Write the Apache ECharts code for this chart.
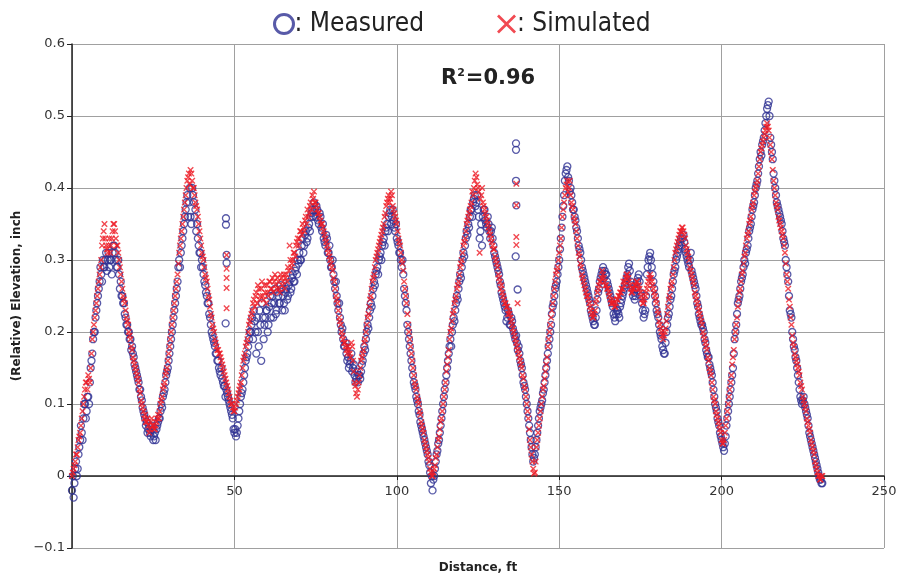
<!DOCTYPE html>
<html>
<head>
<meta charset="utf-8">
<script src="https://cdn.jsdelivr.net/npm/echarts@6/dist/echarts.min.js"></script>
<style>
  html, body { margin: 0; padding: 0; background: #fff; }
  #chart { width: 903px; height: 581px; }
</style>
</head>
<body>
<div id="chart"></div>
<script>
  // readings every 0.5 ft from 0 ft (A) and the in-between readings from 0.25 ft (B)
  var step = 0.5;

  var measuredA = [
    -0.02, -0.03, 0.01, 0.0, 0.03, 0.05, 0.06, 0.08, 0.1, 0.09,
    0.11, 0.13, 0.16, 0.19, 0.2, 0.23, 0.25, 0.27, 0.28, 0.3,
    0.29, 0.31, 0.3, 0.29, 0.3, 0.31, 0.32, 0.3, 0.29, 0.28,
    0.27, 0.25, 0.24, 0.22, 0.21, 0.2, 0.19, 0.18, 0.165, 0.15,
    0.14, 0.13, 0.12, 0.105, 0.09, 0.08, 0.075, 0.065, 0.06, 0.07,
    0.05, 0.06, 0.065, 0.075, 0.08, 0.1, 0.11, 0.12, 0.14, 0.15,
    0.17, 0.19, 0.21, 0.23, 0.25, 0.27, 0.3, 0.31, 0.33, 0.35,
    0.37, 0.39, 0.38, 0.36, 0.4, 0.38, 0.37, 0.35, 0.32, 0.31,
    0.3, 0.28, 0.265, 0.25, 0.24, 0.22, 0.2, 0.19, 0.18, 0.17,
    0.16, 0.145, 0.15, 0.13, 0.125, 0.12, 0.11, 0.1, 0.09, 0.08,
    0.06, 0.055, 0.07, 0.09, 0.11, 0.12, 0.14, 0.16, 0.17, 0.19,
    0.2, 0.22, 0.23, 0.2, 0.22, 0.18, 0.21, 0.24, 0.19, 0.22,
    0.23, 0.21, 0.25, 0.24, 0.22, 0.26, 0.23, 0.25, 0.24, 0.26,
    0.25, 0.23, 0.26, 0.25, 0.27, 0.26, 0.28, 0.27, 0.29, 0.3,
    0.31, 0.3, 0.33, 0.32, 0.34, 0.33, 0.35, 0.36, 0.37, 0.38,
    0.36, 0.37, 0.35, 0.36, 0.34, 0.33, 0.32, 0.33, 0.31, 0.3,
    0.29, 0.28, 0.26, 0.25, 0.23, 0.22, 0.2, 0.19, 0.18, 0.17,
    0.165, 0.155, 0.17, 0.15, 0.14, 0.135, 0.13, 0.14, 0.145, 0.16,
    0.18, 0.19, 0.21, 0.22, 0.24, 0.25, 0.27, 0.28, 0.29, 0.3,
    0.31, 0.32, 0.33, 0.34, 0.35, 0.36, 0.37, 0.36, 0.355, 0.34,
    0.33, 0.32, 0.31, 0.29, 0.28, 0.25, 0.23, 0.2, 0.18, 0.16,
    0.14, 0.125, 0.11, 0.1, 0.085, 0.07, 0.06, 0.05, 0.04, 0.03,
    0.015, -0.01, -0.02, 0.0, 0.02, 0.035, 0.05, 0.07, 0.09, 0.11,
    0.13, 0.15, 0.17, 0.19, 0.2, 0.22, 0.23, 0.25, 0.26, 0.28,
    0.29, 0.31, 0.32, 0.34, 0.35, 0.36, 0.37, 0.38, 0.39, 0.38,
    0.37, 0.33, 0.35, 0.36, 0.37, 0.35, 0.36, 0.34, 0.34, 0.33,
    0.31, 0.3, 0.29, 0.28, 0.265, 0.25, 0.24, 0.23, 0.22, 0.225,
    0.21, 0.215, 0.2, 0.19, 0.185, 0.18, 0.16, 0.15, 0.13, 0.12,
    0.1, 0.08, 0.06, 0.04, 0.02, 0.03, 0.05, 0.07, 0.09, 0.1,
    0.115, 0.13, 0.15, 0.17, 0.19, 0.21, 0.235, 0.25, 0.265, 0.28,
    0.3, 0.33, 0.36, 0.39, 0.42, 0.43, 0.41, 0.4, 0.38, 0.37,
    0.355, 0.34, 0.32, 0.31, 0.29, 0.28, 0.27, 0.26, 0.25, 0.24,
    0.225, 0.215, 0.21, 0.23, 0.255, 0.27, 0.28, 0.29, 0.285, 0.28,
    0.265, 0.255, 0.245, 0.235, 0.22, 0.225, 0.23, 0.22, 0.24, 0.25,
    0.26, 0.27, 0.28, 0.295, 0.27, 0.26, 0.255, 0.25, 0.27, 0.28,
    0.255, 0.24, 0.22, 0.23, 0.28, 0.3, 0.31, 0.29, 0.27, 0.25,
    0.23, 0.22, 0.2, 0.19, 0.175, 0.17, 0.2, 0.22, 0.235, 0.25,
    0.27, 0.285, 0.3, 0.31, 0.32, 0.33, 0.33, 0.325, 0.31, 0.3,
    0.29, 0.31, 0.28, 0.27, 0.26, 0.24, 0.225, 0.215, 0.21, 0.2,
    0.185, 0.17, 0.165, 0.15, 0.14, 0.12, 0.1, 0.09, 0.075, 0.06,
    0.05, 0.04, 0.045, 0.07, 0.09, 0.11, 0.13, 0.15, 0.19, 0.21,
    0.24, 0.25, 0.27, 0.28, 0.3, 0.31, 0.32, 0.34, 0.35, 0.37,
    0.38, 0.4, 0.41, 0.43, 0.45, 0.46, 0.47, 0.49, 0.51, 0.52,
    0.47, 0.45, 0.42, 0.4, 0.38, 0.37, 0.36, 0.35, 0.33, 0.32,
    0.29, 0.27, 0.23, 0.22, 0.19, 0.175, 0.16, 0.14, 0.12, 0.105,
    0.105, 0.1, 0.09, 0.08, 0.06, 0.05, 0.04, 0.03, 0.02, 0.01,
    0.0, -0.005, -0.01
  ];

  var measuredB = [
    0.0, -0.01, 0.02, 0.01, 0.04, 0.07, 0.05, 0.1, 0.08, 0.11,
    0.1, 0.15, 0.17, 0.2, 0.22, 0.24, 0.26, 0.29, 0.27, 0.29,
    0.3, 0.285, 0.31, 0.3, 0.28, 0.32, 0.31, 0.29, 0.3, 0.26,
    0.25, 0.24, 0.225, 0.21, 0.2, 0.19, 0.175, 0.17, 0.155, 0.145,
    0.135, 0.12, 0.11, 0.095, 0.085, 0.07, 0.06, 0.07, 0.055, 0.065,
    0.055, 0.05, 0.07, 0.08, 0.09, 0.095, 0.115, 0.13, 0.145, 0.16,
    0.18, 0.2, 0.22, 0.24, 0.26, 0.29, 0.29, 0.32, 0.34, 0.36,
    0.38, 0.36, 0.4, 0.35, 0.39, 0.36, 0.34, 0.33, 0.31, 0.29,
    0.29, 0.27, 0.255, 0.24, 0.225, 0.21, 0.195, 0.185, 0.17, 0.16,
    0.15, 0.14, 0.135, 0.125, 0.11, 0.115, 0.105, 0.095, 0.085, 0.065,
    0.065, 0.06, 0.08, 0.1, 0.115, 0.13, 0.15, 0.165, 0.18, 0.2,
    0.21, 0.19, 0.215, 0.17, 0.2, 0.23, 0.16, 0.22, 0.21, 0.23,
    0.2, 0.235, 0.22, 0.25, 0.24, 0.225, 0.255, 0.24, 0.265, 0.23,
    0.24, 0.255, 0.245, 0.265, 0.255, 0.275, 0.27, 0.285, 0.28, 0.295,
    0.3, 0.32, 0.31, 0.335, 0.325, 0.345, 0.34, 0.365, 0.36, 0.37,
    0.375, 0.355, 0.365, 0.345, 0.35, 0.325, 0.335, 0.31, 0.32, 0.29,
    0.3, 0.27, 0.27, 0.24, 0.24, 0.21, 0.205, 0.18, 0.185, 0.16,
    0.15, 0.16, 0.145, 0.155, 0.13, 0.145, 0.14, 0.135, 0.155, 0.17,
    0.175, 0.2, 0.205, 0.23, 0.235, 0.26, 0.265, 0.285, 0.28, 0.305,
    0.3, 0.325, 0.32, 0.345, 0.34, 0.365, 0.35, 0.37, 0.345, 0.35,
    0.325, 0.31, 0.3, 0.3, 0.26, 0.24, 0.21, 0.19, 0.17, 0.15,
    0.13, 0.12, 0.105, 0.09, 0.075, 0.065, 0.055, 0.045, 0.035, 0.02,
    0.005, 0.0, -0.005, 0.01, 0.03, 0.045, 0.06, 0.08, 0.1, 0.12,
    0.14, 0.16, 0.18, 0.18, 0.21, 0.215, 0.24, 0.245, 0.27, 0.275,
    0.3, 0.305, 0.33, 0.335, 0.345, 0.37, 0.36, 0.385, 0.375, 0.39,
    0.36, 0.34, 0.32, 0.37, 0.355, 0.345, 0.35, 0.33, 0.345, 0.32,
    0.305, 0.295, 0.285, 0.27, 0.255, 0.245, 0.235, 0.215, 0.23, 0.21,
    0.22, 0.205, 0.195, 0.195, 0.175, 0.17, 0.155, 0.14, 0.125, 0.11,
    0.09, 0.07, 0.05, 0.03, 0.025, 0.04, 0.06, 0.08, 0.095, 0.105,
    0.12, 0.14, 0.16, 0.18, 0.2, 0.225, 0.24, 0.26, 0.27, 0.29,
    0.315, 0.345, 0.375, 0.41, 0.425, 0.415, 0.395, 0.39, 0.37, 0.36,
    0.345, 0.33, 0.315, 0.3, 0.285, 0.275, 0.265, 0.255, 0.245, 0.23,
    0.22, 0.21, 0.22, 0.245, 0.26, 0.275, 0.285, 0.275, 0.28, 0.27,
    0.26, 0.25, 0.24, 0.225, 0.215, 0.23, 0.225, 0.235, 0.245, 0.255,
    0.265, 0.275, 0.29, 0.285, 0.265, 0.25, 0.245, 0.26, 0.275, 0.27,
    0.25, 0.23, 0.225, 0.25, 0.29, 0.305, 0.3, 0.28, 0.26, 0.24,
    0.225, 0.21, 0.195, 0.18, 0.17, 0.185, 0.21, 0.225, 0.245, 0.26,
    0.28, 0.29, 0.305, 0.315, 0.325, 0.32, 0.335, 0.315, 0.305, 0.295,
    0.3, 0.285, 0.275, 0.265, 0.25, 0.235, 0.22, 0.21, 0.205, 0.19,
    0.175, 0.165, 0.155, 0.145, 0.13, 0.11, 0.095, 0.08, 0.07, 0.055,
    0.045, 0.035, 0.055, 0.08, 0.1, 0.12, 0.14, 0.17, 0.2, 0.225,
    0.245, 0.26, 0.275, 0.29, 0.295, 0.315, 0.33, 0.345, 0.36, 0.375,
    0.39, 0.405, 0.42, 0.44, 0.445, 0.465, 0.48, 0.5, 0.515, 0.5,
    0.46, 0.44, 0.41, 0.39, 0.375, 0.365, 0.355, 0.34, 0.325, 0.3,
    0.28, 0.25, 0.225, 0.2, 0.18, 0.165, 0.15, 0.13, 0.11, 0.1,
    0.11, 0.095, 0.085, 0.07, 0.055, 0.045, 0.035, 0.025, 0.015, 0.005,
    -0.005, -0.01
  ];

  var simulatedA = [
    0.0, 0.01, 0.02, 0.03, 0.05, 0.06, 0.08, 0.1, 0.12, 0.13,
    0.14, 0.13, 0.17, 0.2, 0.22, 0.24, 0.26, 0.28, 0.3, 0.33,
    0.35, 0.32, 0.31, 0.33, 0.32, 0.34, 0.35, 0.33, 0.32, 0.3,
    0.28, 0.26, 0.245, 0.23, 0.215, 0.2, 0.19, 0.175, 0.16, 0.15,
    0.14, 0.13, 0.115, 0.1, 0.09, 0.085, 0.075, 0.07, 0.065, 0.08,
    0.07, 0.065, 0.075, 0.085, 0.09, 0.105, 0.12, 0.13, 0.145, 0.16,
    0.18, 0.2, 0.22, 0.24, 0.26, 0.28, 0.31, 0.33, 0.35, 0.37,
    0.39, 0.41, 0.42, 0.425, 0.41, 0.4, 0.38, 0.37, 0.35, 0.33,
    0.31, 0.3, 0.28, 0.27, 0.25, 0.235, 0.22, 0.205, 0.19, 0.18,
    0.175, 0.17, 0.16, 0.15, 0.14, 0.13, 0.12, 0.11, 0.1, 0.095,
    0.09, 0.1, 0.11, 0.12, 0.13, 0.15, 0.165, 0.18, 0.19, 0.21,
    0.22, 0.23, 0.245, 0.25, 0.24, 0.26, 0.25, 0.27, 0.245, 0.255,
    0.265, 0.25, 0.27, 0.26, 0.255, 0.28, 0.26, 0.27, 0.255, 0.275,
    0.27, 0.26, 0.28, 0.29, 0.32, 0.29, 0.3, 0.31, 0.32, 0.33,
    0.33, 0.34, 0.35, 0.34, 0.36, 0.37, 0.365, 0.38, 0.39, 0.395,
    0.38, 0.37, 0.365, 0.355, 0.35, 0.34, 0.33, 0.32, 0.31, 0.3,
    0.29, 0.275, 0.26, 0.245, 0.23, 0.215, 0.2, 0.19, 0.185, 0.175,
    0.18, 0.17, 0.185, 0.16, 0.13, 0.115, 0.12, 0.14, 0.16, 0.17,
    0.185, 0.2, 0.22, 0.235, 0.25, 0.27, 0.28, 0.3, 0.31, 0.32,
    0.33, 0.34, 0.35, 0.365, 0.38, 0.39, 0.385, 0.39, 0.37, 0.36,
    0.35, 0.33, 0.32, 0.3, 0.285, 0.26, 0.24, 0.21, 0.19, 0.17,
    0.15, 0.13, 0.12, 0.105, 0.09, 0.075, 0.065, 0.05, 0.04, 0.03,
    0.02, 0.005, 0.0, 0.01, 0.025, 0.04, 0.055, 0.075, 0.09, 0.11,
    0.13, 0.155, 0.175, 0.2, 0.215, 0.23, 0.245, 0.26, 0.27, 0.29,
    0.3, 0.32, 0.33, 0.35, 0.36, 0.37, 0.38, 0.39, 0.41, 0.415,
    0.4, 0.31, 0.39, 0.38, 0.37, 0.36, 0.35, 0.34, 0.33, 0.32,
    0.315, 0.3, 0.29, 0.275, 0.26, 0.255, 0.245, 0.24, 0.235, 0.23,
    0.22, 0.21, 0.2, 0.19, 0.18, 0.17, 0.16, 0.15, 0.135, 0.12,
    0.1, 0.08, 0.05, 0.03, 0.01, 0.005, 0.04, 0.06, 0.08, 0.1,
    0.12, 0.135, 0.155, 0.18, 0.2, 0.22, 0.24, 0.26, 0.28, 0.29,
    0.31, 0.33, 0.36, 0.38, 0.4, 0.41, 0.4, 0.39, 0.375, 0.36,
    0.35, 0.33, 0.31, 0.295, 0.28, 0.27, 0.26, 0.25, 0.245, 0.235,
    0.225, 0.22, 0.23, 0.245, 0.26, 0.27, 0.275, 0.28, 0.27, 0.265,
    0.26, 0.25, 0.24, 0.245, 0.235, 0.24, 0.245, 0.25, 0.255, 0.26,
    0.265, 0.275, 0.28, 0.27, 0.26, 0.255, 0.26, 0.265, 0.27, 0.265,
    0.255, 0.245, 0.24, 0.25, 0.26, 0.27, 0.28, 0.27, 0.26, 0.25,
    0.24, 0.225, 0.21, 0.2, 0.19, 0.2, 0.215, 0.235, 0.25, 0.265,
    0.28, 0.3, 0.315, 0.325, 0.335, 0.34, 0.345, 0.335, 0.32, 0.31,
    0.3, 0.285, 0.275, 0.265, 0.25, 0.24, 0.23, 0.22, 0.21, 0.195,
    0.185, 0.175, 0.16, 0.145, 0.13, 0.11, 0.1, 0.085, 0.075, 0.065,
    0.05, 0.045, 0.06, 0.08, 0.1, 0.12, 0.14, 0.165, 0.19, 0.21,
    0.235, 0.255, 0.27, 0.285, 0.305, 0.32, 0.335, 0.35, 0.36, 0.375,
    0.39, 0.4, 0.41, 0.43, 0.45, 0.46, 0.47, 0.48, 0.49, 0.48,
    0.46, 0.44, 0.41, 0.39, 0.375, 0.36, 0.35, 0.34, 0.33, 0.31,
    0.28, 0.26, 0.235, 0.21, 0.185, 0.17, 0.16, 0.15, 0.14, 0.125,
    0.11, 0.1, 0.09, 0.075, 0.065, 0.05, 0.04, 0.03, 0.015, 0.005,
    0.0, -0.005, 0.0
  ];

  var simulatedB = [
    0.005, 0.015, 0.03, 0.04, 0.055, 0.07, 0.09, 0.11, 0.13, 0.12,
    0.135, 0.15, 0.19, 0.21, 0.23, 0.25, 0.27, 0.29, 0.32, 0.34,
    0.33, 0.315, 0.32, 0.31, 0.33, 0.35, 0.34, 0.32, 0.31, 0.29,
    0.27, 0.25, 0.24, 0.22, 0.21, 0.195, 0.18, 0.165, 0.155, 0.145,
    0.135, 0.12, 0.105, 0.095, 0.08, 0.075, 0.08, 0.06, 0.075, 0.07,
    0.065, 0.07, 0.08, 0.08, 0.1, 0.11, 0.125, 0.14, 0.15, 0.17,
    0.19, 0.21, 0.23, 0.25, 0.27, 0.295, 0.32, 0.34, 0.36, 0.38,
    0.4, 0.415, 0.405, 0.42, 0.4, 0.39, 0.375, 0.36, 0.34, 0.32,
    0.305, 0.29, 0.275, 0.26, 0.245, 0.225, 0.21, 0.2, 0.185, 0.175,
    0.17, 0.165, 0.155, 0.145, 0.135, 0.125, 0.115, 0.105, 0.1, 0.09,
    0.095, 0.105, 0.115, 0.125, 0.14, 0.16, 0.17, 0.185, 0.2, 0.215,
    0.225, 0.24, 0.235, 0.255, 0.265, 0.245, 0.26, 0.25, 0.265, 0.24,
    0.255, 0.27, 0.26, 0.275, 0.27, 0.265, 0.275, 0.26, 0.28, 0.265,
    0.28, 0.275, 0.27, 0.285, 0.3, 0.295, 0.31, 0.305, 0.325, 0.32,
    0.34, 0.335, 0.345, 0.355, 0.35, 0.36, 0.375, 0.37, 0.385, 0.38,
    0.375, 0.365, 0.36, 0.35, 0.345, 0.335, 0.325, 0.315, 0.305, 0.295,
    0.285, 0.27, 0.25, 0.24, 0.22, 0.21, 0.195, 0.185, 0.18, 0.17,
    0.175, 0.165, 0.18, 0.145, 0.125, 0.11, 0.13, 0.15, 0.165, 0.175,
    0.19, 0.21, 0.225, 0.245, 0.26, 0.275, 0.29, 0.305, 0.315, 0.325,
    0.335, 0.345, 0.36, 0.375, 0.385, 0.38, 0.395, 0.375, 0.365, 0.355,
    0.34, 0.325, 0.31, 0.295, 0.27, 0.25, 0.225, 0.2, 0.18, 0.16,
    0.14, 0.125, 0.11, 0.1, 0.085, 0.07, 0.06, 0.045, 0.035, 0.025,
    0.01, 0.0, 0.005, 0.015, 0.03, 0.05, 0.065, 0.08, 0.1, 0.12,
    0.145, 0.165, 0.19, 0.205, 0.225, 0.24, 0.25, 0.265, 0.28, 0.295,
    0.31, 0.325, 0.34, 0.355, 0.365, 0.375, 0.395, 0.4, 0.42, 0.405,
    0.395, 0.385, 0.4, 0.375, 0.365, 0.355, 0.345, 0.335, 0.325, 0.315,
    0.305, 0.295, 0.28, 0.27, 0.265, 0.25, 0.24, 0.235, 0.225, 0.225,
    0.215, 0.205, 0.195, 0.185, 0.175, 0.165, 0.155, 0.14, 0.125, 0.11,
    0.09, 0.065, 0.04, 0.02, 0.003, 0.02, 0.05, 0.07, 0.09, 0.11,
    0.125, 0.145, 0.165, 0.19, 0.21, 0.23, 0.25, 0.27, 0.285, 0.3,
    0.32, 0.345, 0.37, 0.39, 0.405, 0.395, 0.41, 0.38, 0.37, 0.355,
    0.34, 0.32, 0.305, 0.29, 0.275, 0.265, 0.255, 0.25, 0.24, 0.23,
    0.22, 0.225, 0.24, 0.255, 0.265, 0.27, 0.285, 0.275, 0.265, 0.26,
    0.255, 0.245, 0.24, 0.24, 0.235, 0.245, 0.25, 0.255, 0.26, 0.27,
    0.27, 0.28, 0.275, 0.265, 0.255, 0.26, 0.265, 0.27, 0.26, 0.26,
    0.25, 0.24, 0.245, 0.255, 0.265, 0.275, 0.275, 0.265, 0.255, 0.245,
    0.23, 0.215, 0.205, 0.195, 0.195, 0.205, 0.225, 0.245, 0.26, 0.27,
    0.29, 0.31, 0.32, 0.33, 0.34, 0.345, 0.34, 0.33, 0.315, 0.305,
    0.29, 0.28, 0.27, 0.255, 0.245, 0.235, 0.225, 0.215, 0.2, 0.19,
    0.18, 0.165, 0.15, 0.14, 0.12, 0.105, 0.09, 0.08, 0.07, 0.06,
    0.045, 0.05, 0.07, 0.09, 0.11, 0.13, 0.155, 0.175, 0.2, 0.22,
    0.245, 0.26, 0.28, 0.295, 0.31, 0.33, 0.34, 0.355, 0.37, 0.38,
    0.395, 0.405, 0.42, 0.44, 0.455, 0.465, 0.475, 0.485, 0.485, 0.47,
    0.45, 0.425, 0.4, 0.38, 0.37, 0.355, 0.345, 0.335, 0.32, 0.295,
    0.27, 0.245, 0.22, 0.195, 0.18, 0.165, 0.155, 0.145, 0.13, 0.12,
    0.105, 0.095, 0.08, 0.07, 0.06, 0.045, 0.035, 0.02, 0.01, 0.0,
    -0.005, 0.0
  ];

  // stray readings: [distance, elevation]
  var measuredStray = [
    [47.4, 0.358], [47.4, 0.349], [47.6, 0.307], [47.6, 0.296], [47.3, 0.212],
    [136.7, 0.462], [136.7, 0.453], [136.7, 0.41], [136.8, 0.376], [136.6, 0.305], [137.2, 0.259]
  ];
  var simulatedStray = [
    [47.6, 0.307], [47.6, 0.288], [47.6, 0.275], [47.6, 0.261], [47.6, 0.233],
    [136.8, 0.406], [136.8, 0.376], [136.8, 0.332], [136.8, 0.321], [137.2, 0.24]
  ];

  var blue = '#2e3192';
  var red = '#ee1c25';
  var cross = 'path://M0,1.5L1.5,0L5,3.5L8.5,0L10,1.5L6.5,5L10,8.5L8.5,10L5,6.5L1.5,10L0,8.5L3.5,5Z';
  var thinCross = 'path://M0,1L1,0L5,4L9,0L10,1L6,5L10,9L9,10L5,6L1,10L0,9L4,5Z';

  function pairs(arr, start) {
    return arr.map(function (v, i) { return [start + i * step, v]; });
  }

  var chart = echarts.init(document.getElementById('chart'));
  chart.setOption({
    animation: false,
    backgroundColor: '#fff',
    title: {
      text: '{a|R}{s|2}{a|=0.96}',
      left: 436,
      top: 63,
      textStyle: {
        rich: {
          a: { fontFamily: 'DejaVu Sans', fontWeight: 'bold', fontSize: 21, color: '#222' },
          s: { fontFamily: 'DejaVu Sans', fontWeight: 'bold', fontSize: 11, color: '#222', padding: [0, 1, 10, 0] }
        }
      }
    },
    legend: {
      top: 6,
      left: 268,
      itemGap: 73,
      itemWidth: 19,
      itemHeight: 25,
      formatter: function (n) { return ': ' + n; },
      textStyle: { fontFamily: 'Liberation Sans Narrow, DejaVu Sans Condensed, sans-serif', fontSize: 26, color: '#222', padding: [0, 0, 0, -4] },
      data: [
        { name: 'Measured', icon: 'circle', itemStyle: { color: '#fff', borderColor: blue, borderWidth: 3 } },
        { name: 'Simulated', icon: thinCross, itemStyle: { color: red } }
      ]
    },
    grid: { left: 72, right: 19, top: 44, bottom: 33, outerBoundsMode: 'none', containLabel: false },
    xAxis: {
      type: 'value',
      min: 0,
      max: 250,
      interval: 50,
      // the axis crosses at elevation 0, which is 72 px above the bottom of the plot
      offset: -72,
      name: 'Distance, ft',
      nameLocation: 'middle',
      nameGap: 86,
      nameTextStyle: { fontFamily: 'DejaVu Sans', fontWeight: 'bold', fontSize: 12, color: '#222' },
      axisLine: { onZero: false, lineStyle: { color: '#222', width: 1.5 } },
      axisTick: { show: true, length: 4, lineStyle: { color: '#222' } },
      axisLabel: { fontFamily: 'DejaVu Sans', fontSize: 13, color: '#333', margin: 9 },
      splitLine: { show: true, lineStyle: { color: '#a0a0a0', width: 1 } }
    },
    yAxis: {
      type: 'value',
      min: -0.1,
      max: 0.6,
      interval: 0.1,
      name: '(Relative) Elevation, inch',
      nameLocation: 'middle',
      nameGap: 42,
      nameTextStyle: { fontFamily: 'DejaVu Sans', fontWeight: 'bold', fontSize: 12, color: '#222' },
      axisLine: { show: true, onZero: false, lineStyle: { color: '#222', width: 1.5 } },
      axisTick: { show: true, length: 5, lineStyle: { color: '#222' } },
      axisLabel: {
        fontFamily: 'DejaVu Sans', fontSize: 13, color: '#333', margin: 7,
        formatter: function (v) {
          if (Math.abs(v) < 1e-9) return '0';
          return v < 0 ? '\u2212' + Math.abs(v).toFixed(1) : v.toFixed(1);
        }
      },
      splitLine: { show: true, lineStyle: { color: '#a0a0a0', width: 1 } }
    },
    series: [
      {
        name: 'Measured',
        type: 'scatter',
        symbol: 'circle',
        symbolSize: 7,
        itemStyle: { color: 'rgba(255,255,255,0)', borderColor: blue, borderWidth: 1.3 },
        data: pairs(measuredA, 0).concat(pairs(measuredB, 0.25), measuredStray)
      },
      {
        name: 'Simulated',
        type: 'scatter',
        symbol: cross,
        symbolSize: 6.5,
        itemStyle: { color: red },
        data: pairs(simulatedA, 0).concat(pairs(simulatedB, 0.25), simulatedStray)
      }
    ]
  });
</script>
</body>
</html>
